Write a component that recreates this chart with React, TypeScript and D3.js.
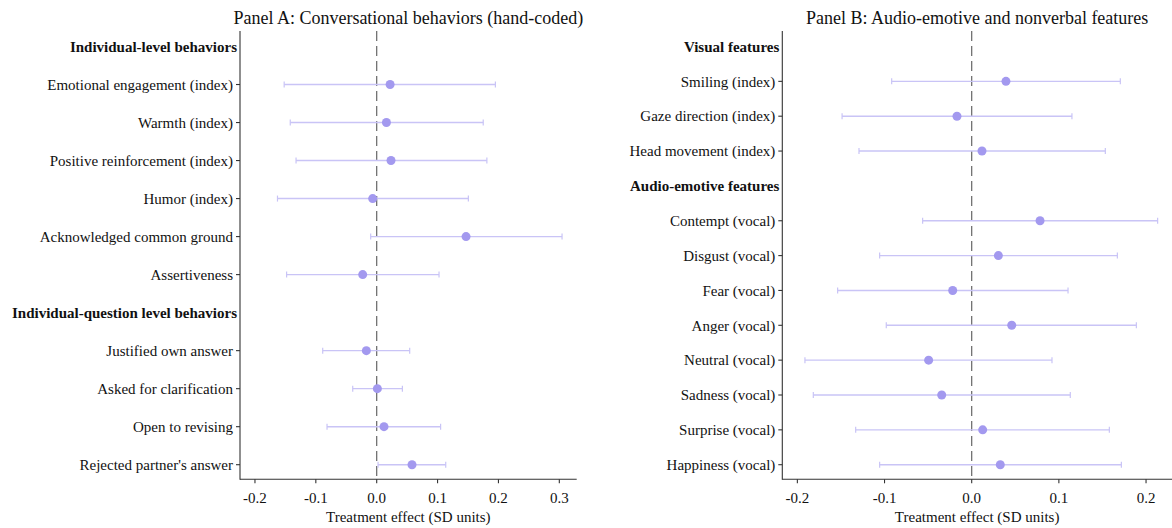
import React, { useEffect, useRef } from "react";
import * as d3 from "d3";

// ---- Data ----
const panelATitle = "Panel A: Conversational behaviors (hand-coded)";
const panelARows = [
  "Individual-level behaviors",
  "Emotional engagement (index)",
  "Warmth (index)",
  "Positive reinforcement (index)",
  "Humor (index)",
  "Acknowledged common ground",
  "Assertiveness",
  "Individual-question level behaviors",
  "Justified own answer",
  "Asked for clarification",
  "Open to revising",
  "Rejected partner's answer",
];
const panelAHeaders = [true, false, false, false, false, false, false, true, false, false, false, false];
const panelAEst = [null, 0.022, 0.016, 0.0235, -0.0066, 0.1468, -0.023, null, -0.017, 0.0011, 0.012, 0.058];
const panelALow = [null, -0.152, -0.142, -0.1325, -0.163, -0.0099, -0.148, null, -0.0887, -0.0394, -0.0816, 0.0022];
const panelAHigh = [null, 0.195, 0.175, 0.181, 0.1506, 0.3045, 0.1024, null, 0.0542, 0.0422, 0.105, 0.1134];
const panelATicks = [-0.2, -0.1, 0.0, 0.1, 0.2, 0.3];

const panelBTitle = "Panel B: Audio-emotive and nonverbal features";
const panelBRows = [
  "Visual features",
  "Smiling (index)",
  "Gaze direction (index)",
  "Head movement (index)",
  "Audio-emotive features",
  "Contempt (vocal)",
  "Disgust (vocal)",
  "Fear (vocal)",
  "Anger (vocal)",
  "Neutral (vocal)",
  "Sadness (vocal)",
  "Surprise (vocal)",
  "Happiness (vocal)",
];
const panelBHeaders = [true, false, false, false, true, false, false, false, false, false, false, false, false];
const panelBEst = [null, 0.0393, -0.0169, 0.0118, null, 0.0784, 0.0306, -0.0218, 0.0459, -0.0494, -0.0344, 0.0126, 0.0328];
const panelBLow = [null, -0.0918, -0.1487, -0.1293, null, -0.0563, -0.1056, -0.1538, -0.098, -0.1913, -0.1817, -0.1331, -0.1056];
const panelBHigh = [null, 0.1705, 0.115, 0.1533, null, 0.2133, 0.1671, 0.1105, 0.1889, 0.0921, 0.1131, 0.1579, 0.1717];
const panelBTicks = [-0.2, -0.1, 0.0, 0.1, 0.2];

const xAxisTitle = "Treatment effect (SD units)";

// ---- Style ----
const W = 1172;
const H = 528;
const FONT = "Liberation Serif, Times New Roman, Times, DejaVu Serif, serif";
const POINT_COLOR = "#a399ef";
const CI_COLOR = "#c9c4f6";
const AXIS_COLOR = "#333333";

type PanelSpec = {
  title: string;
  rows: string[];
  headers: boolean[];
  est: (number | null)[];
  low: (number | null)[];
  high: (number | null)[];
  ticks: number[];
  domain: [number, number];
  left: number;
  right: number;
};

const TOP = 31;
const BOTTOM = 479.3;
const ROW_TOP = 46.5;
const ROW_BOTTOM = 464.7;

const fmt = (t: number) => t.toFixed(1);

function drawPanel(g: d3.Selection<SVGGElement, unknown, null, undefined>, p: PanelSpec) {
  const x = d3.scaleLinear().domain(p.domain).range([p.left, p.right]);
  const y = d3.scalePoint<number>().domain(p.rows.map((_, i) => i)).range([ROW_TOP, ROW_BOTTOM]);

  g.append("text")
    .attr("x", (p.left + p.right) / 2)
    .attr("y", 24)
    .attr("text-anchor", "middle")
    .style("font-family", FONT)
    .style("font-size", "18px")
    .attr("fill", "#111")
    .text(p.title);

  g.append("line")
    .attr("x1", x(0)).attr("x2", x(0))
    .attr("y1", TOP).attr("y2", BOTTOM)
    .attr("stroke", "#666666")
    .attr("stroke-width", 1.2)
    .attr("stroke-dasharray", "10,5");

  p.rows.forEach((_, i) => {
    const e = p.est[i];
    const lo = p.low[i];
    const hi = p.high[i];
    if (e === null || lo === null || hi === null) return;
    const yy = y(i)!;
    g.append("line")
      .attr("x1", x(lo)).attr("x2", x(hi))
      .attr("y1", yy).attr("y2", yy)
      .attr("stroke", CI_COLOR).attr("stroke-width", 1.4);
    [lo, hi].forEach((v) => {
      g.append("line")
        .attr("x1", x(v)).attr("x2", x(v))
        .attr("y1", yy - 3).attr("y2", yy + 3)
        .attr("stroke", CI_COLOR).attr("stroke-width", 1.2);
    });
    g.append("circle")
      .attr("cx", x(e)).attr("cy", yy).attr("r", 4.5)
      .attr("fill", POINT_COLOR);
  });

  g.append("line")
    .attr("x1", p.left).attr("x2", p.left)
    .attr("y1", TOP).attr("y2", BOTTOM + 0.5)
    .attr("stroke", AXIS_COLOR).attr("stroke-width", 1.1);
  g.append("line")
    .attr("x1", p.left).attr("x2", p.right)
    .attr("y1", BOTTOM).attr("y2", BOTTOM)
    .attr("stroke", AXIS_COLOR).attr("stroke-width", 1.1);

  p.rows.forEach((label, i) => {
    const yy = y(i)!;
    const header = p.headers[i];
    if (!header) {
      g.append("line")
        .attr("x1", p.left - 4).attr("x2", p.left)
        .attr("y1", yy).attr("y2", yy)
        .attr("stroke", AXIS_COLOR).attr("stroke-width", 1.1);
    }
    g.append("text")
      .attr("x", header ? p.left - 3 : p.left - 7)
      .attr("y", yy)
      .attr("dy", "0.35em")
      .attr("text-anchor", "end")
      .style("font-family", FONT)
      .style("font-size", "15px")
      .style("font-weight", header ? "bold" : "normal")
      .attr("fill", "#111")
      .text(label);
  });

  p.ticks.forEach((t) => {
    g.append("line")
      .attr("x1", x(t)).attr("x2", x(t))
      .attr("y1", BOTTOM).attr("y2", BOTTOM + 4)
      .attr("stroke", AXIS_COLOR).attr("stroke-width", 1.1);
    g.append("text")
      .attr("x", x(t))
      .attr("y", BOTTOM + 18.5)
      .attr("dy", "0.35em")
      .attr("text-anchor", "middle")
      .style("font-family", FONT)
      .style("font-size", "15px")
      .attr("fill", "#111")
      .text(fmt(t));
  });

  g.append("text")
    .attr("x", (p.left + p.right) / 2)
    .attr("y", 516.5)
    .attr("dy", "0.35em")
    .attr("text-anchor", "middle")
    .style("font-family", FONT)
    .style("font-size", "15px")
    .attr("fill", "#111")
    .text(xAxisTitle);
}

export default function App() {
  const ref = useRef<SVGSVGElement | null>(null);
  useEffect(() => {
    const svg = d3.select(ref.current!);
    svg.selectAll("*").remove();
    const root = svg.append("g");
    const aLeft = 240;
    const aRight = 576.7;
    const aPer = 608.7;
    const aZero = 376.7;
    drawPanel(root.append("g"), {
      title: panelATitle,
      rows: panelARows,
      headers: panelAHeaders,
      est: panelAEst,
      low: panelALow,
      high: panelAHigh,
      ticks: panelATicks,
      domain: [(aLeft - aZero) / aPer, (aRight - aZero) / aPer],
      left: aLeft,
      right: aRight,
    });
    const bLeft = 782.3;
    const bRight = 1172;
    const bPer = 871.7;
    const bZero = 971.7;
    drawPanel(root.append("g"), {
      title: panelBTitle,
      rows: panelBRows,
      headers: panelBHeaders,
      est: panelBEst,
      low: panelBLow,
      high: panelBHigh,
      ticks: panelBTicks,
      domain: [(bLeft - bZero) / bPer, (bRight - bZero) / bPer],
      left: bLeft,
      right: bRight,
    });
  }, []);
  return (
    <svg
      ref={ref}
      width={W}
      height={H}
      style={{ position: "absolute", left: 0, top: 0, background: "#fff" }}
    />
  );
}
